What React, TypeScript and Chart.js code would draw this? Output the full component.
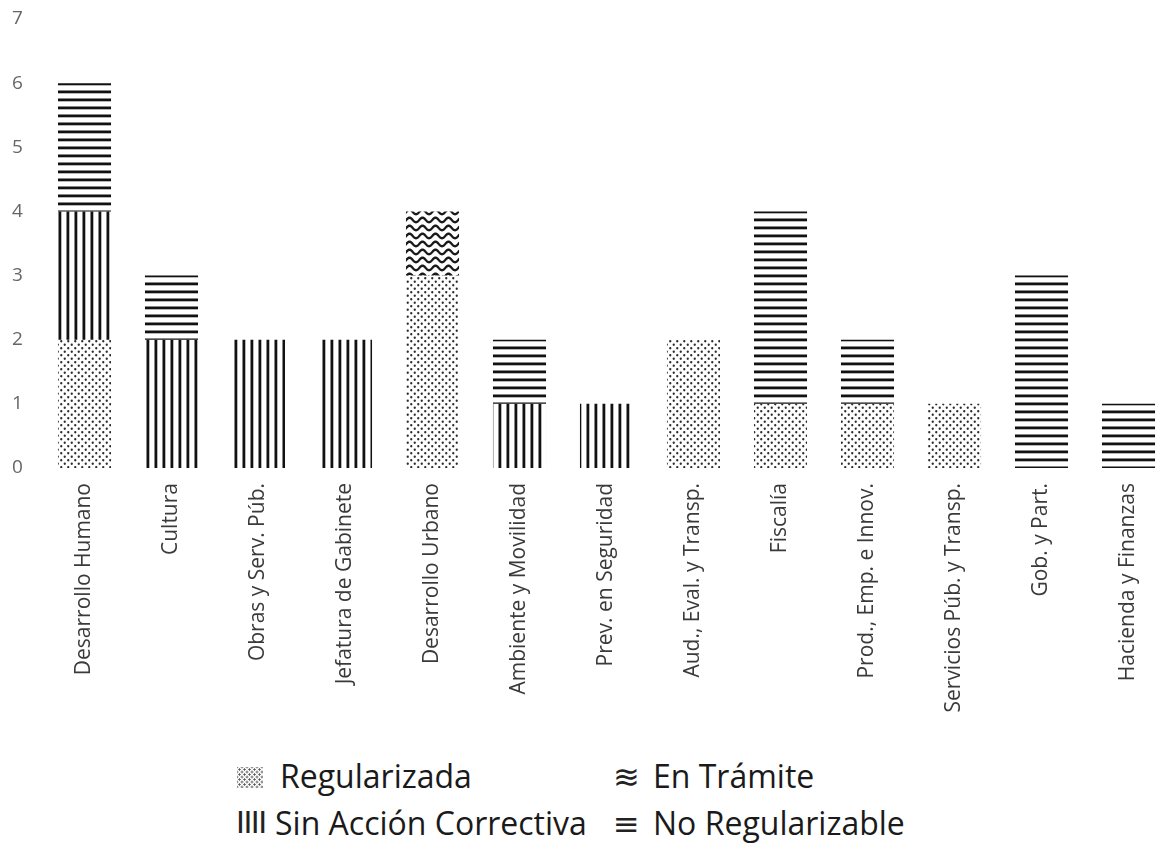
import React, { useEffect, useRef } from "react";
import { Chart, registerables } from "chart.js";

Chart.register(...registerables);

const categories = [
  "Desarrollo Humano",
  "Cultura",
  "Obras y Serv. Púb.",
  "Jefatura de Gabinete",
  "Desarrollo Urbano",
  "Ambiente y Movilidad",
  "Prev. en Seguridad",
  "Aud., Eval. y Transp.",
  "Fiscalía",
  "Prod., Emp. e Innov.",
  "Servicios Púb. y Transp.",
  "Gob. y Part.",
  "Hacienda y Finanzas",
];

const regularizada = [2, 0, 0, 0, 3, 0, 0, 2, 1, 1, 1, 0, 0];
const sinAccionCorrectiva = [2, 2, 2, 2, 0, 1, 1, 0, 0, 0, 0, 0, 0];
const enTramite = [0, 0, 0, 0, 1, 0, 0, 0, 0, 0, 0, 0, 0];
const noRegularizable = [2, 1, 0, 0, 0, 1, 0, 0, 3, 1, 0, 3, 1];

const seriesNames = ["Regularizada", "Sin Acción Correctiva", "En Trámite", "No Regularizable"];
const yTickValues = [0, 1, 2, 3, 4, 5, 6, 7];

const FONT = "'Open Sans', sans-serif";

function makePattern(kind: string): CanvasPattern | string {
  const c = document.createElement("canvas");
  const ctx = c.getContext("2d");
  if (!ctx) return "#000";
  if (kind === "dots") {
    c.width = 7;
    c.height = 7;
    ctx.fillStyle = "#2a2a2a";
    const pts = [
      [1.75, 1.75],
      [5.25, 5.25],
    ];
    for (const [x, y] of pts) {
      ctx.beginPath();
      ctx.arc(x, y, 1.15, 0, Math.PI * 2);
      ctx.fill();
    }
  } else if (kind === "vlines") {
    c.width = 8;
    c.height = 8;
    ctx.fillStyle = "#111";
    ctx.fillRect(2.5, 0, 2.8, 8);
  } else if (kind === "hlines") {
    c.width = 8;
    c.height = 8;
    ctx.fillStyle = "#111";
    ctx.fillRect(0, 2.5, 8, 2.8);
  } else if (kind === "waves") {
    c.width = 13;
    c.height = 8;
    ctx.strokeStyle = "#1a1a1a";
    ctx.lineWidth = 2.3;
    for (const dy of [-8, 0, 8]) {
      ctx.beginPath();
      for (let i = -2; i <= 15; i++) {
        const x = i;
        const y = 4 + dy + 2.3 * Math.cos((x / 13) * Math.PI * 2);
        if (i === -2) ctx.moveTo(x, y);
        else ctx.lineTo(x, y);
      }
      ctx.stroke();
    }
  }
  const p = ctx.createPattern(c, "repeat");
  return p || "#000";
}

export default function App() {
  const ref = useRef<HTMLCanvasElement | null>(null);

  useEffect(() => {
    document.body.style.margin = "0";
    if (!ref.current) return;
    const patterns = [makePattern("dots"), makePattern("vlines"), makePattern("waves"), makePattern("hlines")];
    const values = [regularizada, sinAccionCorrectiva, enTramite, noRegularizable];
    const chart = new Chart(ref.current, {
      type: "bar",
      data: {
        labels: categories,
        datasets: seriesNames.map((name, i) => ({
          label: name,
          data: values[i],
          backgroundColor: patterns[i] as any,
          borderWidth: 0,
          barPercentage: 0.61,
          categoryPercentage: 1,
        })),
      },
      options: {
        animation: false,
        responsive: false,
        maintainAspectRatio: false,
        layout: { padding: { top: 19, left: 12, right: 8, bottom: 0 } },
        plugins: { legend: { display: false }, tooltip: { enabled: false } },
        scales: {
          x: {
            stacked: true,
            grid: { display: false, drawTicks: false },
            border: { display: false },
            ticks: {
              autoSkip: false,
              maxRotation: 90,
              minRotation: 90,
              color: "#3a3a3a",
              padding: 15,
              font: { family: FONT, size: 21 },
            },
            afterFit: (scale: any) => {
              scale.height = 277;
            },
          },
          y: {
            stacked: true,
            min: 0,
            max: 7,
            grid: { display: false, drawTicks: false },
            border: { display: false },
            afterBuildTicks: (scale: any) => {
              scale.ticks = yTickValues.map((v) => ({ value: v }));
            },
            ticks: {
              color: "#666",
              crossAlign: "far",
              font: { family: FONT, size: 19 },
            },
            afterFit: (scale: any) => {
              scale.width = 29;
            },
          },
        },
      },
    });
    return () => chart.destroy();
  }, []);

  const legendText: React.CSSProperties = {
    position: "absolute",
    fontFamily: FONT,
    fontSize: 32,
    color: "#1a1a1a",
    whiteSpace: "nowrap",
    lineHeight: "38px",
  };
  const glyph: React.CSSProperties = {
    ...legendText,
    fontFamily: "'DejaVu Sans', sans-serif",
    fontSize: 32,
    color: "#222",
  };

  const dotSwatch: React.CSSProperties = {
    position: "absolute",
    left: 237,
    top: 767,
    width: 26,
    height: 21,
    backgroundImage:
      "radial-gradient(circle, #555 0.9px, transparent 1.3px), radial-gradient(circle, #555 0.9px, transparent 1.3px)",
    backgroundSize: "5px 5px, 5px 5px",
    backgroundPosition: "0 0, 2.5px 2.5px",
  };

  return (
    <div style={{ position: "fixed", left: 0, top: 0, width: 1156, height: 850, overflow: "hidden", background: "#fff" }}>
      <canvas ref={ref} width={1180} height={745} style={{ position: "absolute", left: 0, top: 0, width: 1180, height: 745 }} />
      <div style={dotSwatch} />
      <div style={{ ...legendText, left: 280, top: 757 }}>Regularizada</div>
      <div style={{ ...glyph, left: 613, top: 758 }}>≋</div>
      <div style={{ ...legendText, left: 653, top: 757 }}>En Trámite</div>
      <div style={{ ...legendText, left: 236, top: 803, fontSize: 32, letterSpacing: "-1.5px", fontFamily: "'Liberation Sans', sans-serif", color: "#222" }}>IIII</div>
      <div style={{ ...legendText, left: 275, top: 804 }}>Sin Acción Correctiva</div>
      <div style={{ ...glyph, left: 613, top: 805 }}>≡</div>
      <div style={{ ...legendText, left: 653, top: 804 }}>No Regularizable</div>
    </div>
  );
}
